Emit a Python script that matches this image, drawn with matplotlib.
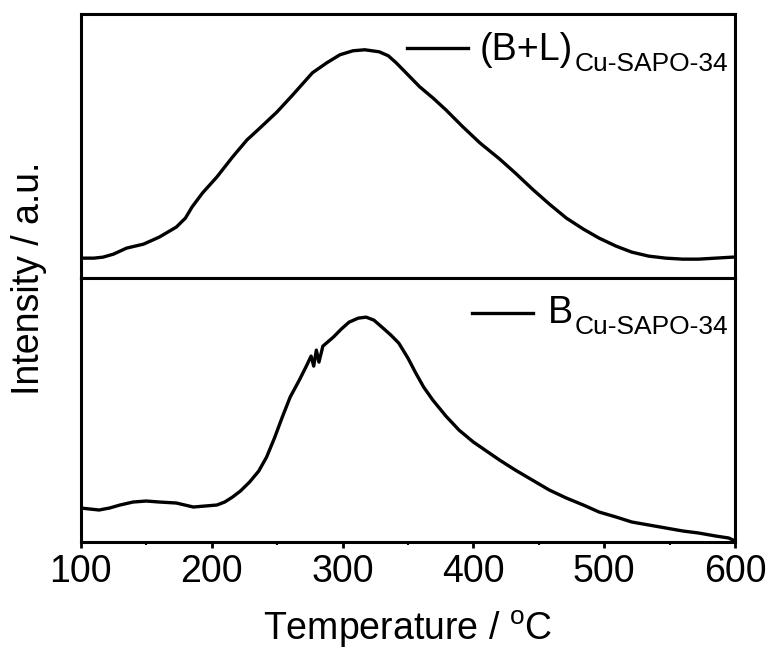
# -*- coding: utf-8 -*-
import matplotlib
matplotlib.use('Agg')
import matplotlib.pyplot as plt

plt.rcParams['font.family'] = ['Liberation Sans', 'DejaVu Sans']
plt.rcParams['mathtext.fontset'] = 'custom'
plt.rcParams['mathtext.rm'] = 'Liberation Sans'
plt.rcParams['mathtext.it'] = 'Liberation Sans'

# (B+L) curve, Cu-SAPO-34
temp_bl = [100, 110, 117, 125, 135, 148, 160, 173, 180, 185, 193, 204, 216, 227,
           237, 250, 262, 277, 288, 298, 308, 317, 328, 335, 341, 350, 359, 369,
           379, 392, 405, 420, 432, 445, 458, 471, 484, 496, 509, 521, 534, 547,
           560, 572, 585, 598, 600]
int_bl = [20, 20, 21, 24, 30, 34, 41, 51, 60, 71, 85, 101, 121, 138,
          150, 166, 183, 205, 215, 223, 227, 228, 226, 222, 215, 203, 191, 180,
          168, 151, 135, 119, 105, 89, 74, 60, 49, 40, 32, 26, 22, 20,
          19, 19, 20, 21, 21]

# B curve, Cu-SAPO-34
temp_b = [100, 114, 122, 130, 140, 150, 160, 173, 186, 195, 204, 210, 216, 222,
          229, 236, 242, 248, 254, 260, 267, 272, 276, 278, 280, 282, 285, 293,
          299, 305, 312, 318, 324, 331, 337, 343, 350, 356, 362, 369, 379, 389,
          400, 410, 420, 432, 445, 458, 471, 484, 496, 509, 521, 534, 547, 560,
          572, 585, 595, 600]
int_b = [34, 32, 34, 37, 40, 41, 40, 39, 35, 36, 37, 40, 45, 51,
         60, 71, 85, 104, 125, 145, 162, 175, 186, 176, 192, 180, 196, 205,
         213, 220, 224, 225, 222, 214, 207, 199, 184, 169, 155, 142, 126, 112,
         100, 91, 82, 72, 62, 52, 44, 37, 30, 25, 20, 17, 14, 11,
         9, 6, 4, 1]

fig = plt.figure(figsize=(7.69, 6.53), dpi=100)
ax1 = fig.add_axes([0.105, 0.574, 0.851, 0.405])
ax2 = fig.add_axes([0.105, 0.170, 0.851, 0.404])

ax1.plot(temp_bl, int_bl, color='black', lw=2.4)
ax2.plot(temp_b, int_b, color='black', lw=2.4)


def leyenda(ax, x0, x1, yl, xt, yt, texto, sub):
    # linea de la leyenda + texto con subindice
    ax.plot([x0, x1], [yl, yl], color='black', lw=2.4, transform=ax.transAxes,
            clip_on=False)
    t = ax.text(xt, yt, texto, fontsize=27, ha='left', va='baseline',
                transform=ax.transAxes)
    ax.annotate(sub, xy=(1, 0), xycoords=t, xytext=(1, -2.5),
                textcoords='offset points', fontsize=19, ha='left',
                va='baseline')


leyenda(ax1, 0.498, 0.592, 0.871, 0.610, 0.826, '(B+L)', 'Cu-SAPO-34')
leyenda(ax2, 0.598, 0.691, 0.867, 0.714, 0.830, 'B', 'Cu-SAPO-34')

for ax in (ax1, ax2):
    ax.set_xlim(100, 600)
    ax.set_ylim(0, 264)
    ax.set_yticks([])
    for s in ax.spines.values():
        s.set_linewidth(2.2)

ax1.set_xticks([])
ax2.set_xticks([100, 200, 300, 400, 500, 600])
ax2.set_xticks([150, 250, 350, 450, 550], minor=True)
ax2.tick_params(axis='x', which='major', direction='out', length=4, width=2,
                labelsize=27, pad=5)
ax2.tick_params(axis='x', which='minor', direction='out', length=2.5, width=1.5)
ax2.set_xlabel(r'Temperature / $^{\mathregular{o}}$C', fontsize=27, labelpad=13)

fig.text(0.038, 0.574, 'Intensity / a.u.', rotation=90, fontsize=27,
         ha='center', va='center')

fig.savefig('out.png', dpi=100)
